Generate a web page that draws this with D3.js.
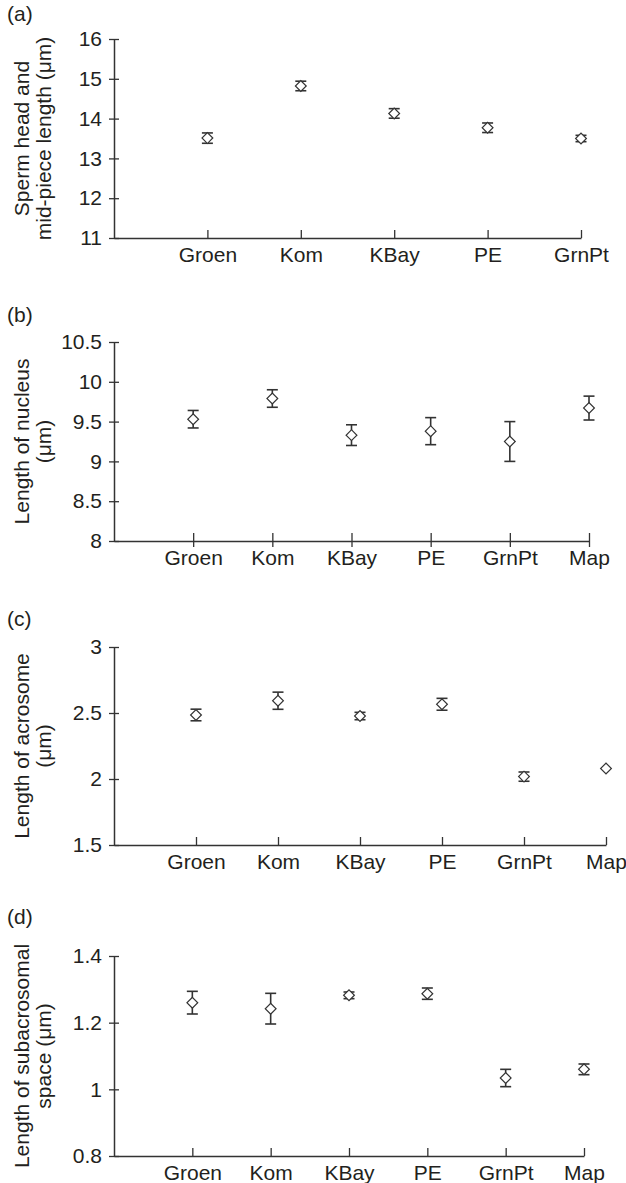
<!DOCTYPE html>
<html>
<head>
<meta charset="utf-8">
<script src="https://cdn.jsdelivr.net/npm/d3@7"></script>
<style>
  body { margin: 0; background: #fff; }
  svg text { font-family: "Liberation Sans", Arial, sans-serif; fill: #231f20; }
</style>
</head>
<body>
<svg id="chart"></svg>
<script>
// (a) sperm head and mid-piece length
const catsA = ["Groen", "Kom", "KBay", "PE", "GrnPt"];
const meanA = [13.51, 14.82, 14.13, 13.77, 13.5];
const errA = [0.13, 0.12, 0.12, 0.12, 0.08];
const ticksA = [11, 12, 13, 14, 15, 16];

// (b) nucleus
const catsB = ["Groen", "Kom", "KBay", "PE", "GrnPt", "Map"];
const meanB = [9.53, 9.79, 9.33, 9.38, 9.25, 9.67];
const errB = [0.11, 0.11, 0.13, 0.17, 0.25, 0.15];
const ticksB = [8, 8.5, 9, 9.5, 10, 10.5];

// (c) acrosome
const catsC = ["Groen", "Kom", "KBay", "PE", "GrnPt", "Map"];
const meanC = [2.485, 2.593, 2.477, 2.566, 2.018, 2.08];
const errC = [0.044, 0.065, 0.028, 0.045, 0.035, 0];
const ticksC = [1.5, 2, 2.5, 3];

// (d) subacrosomal space
const catsD = ["Groen", "Kom", "KBay", "PE", "GrnPt", "Map"];
const meanD = [1.26, 1.242, 1.282, 1.287, 1.034, 1.06];
const errD = [0.034, 0.046, 0.01, 0.017, 0.026, 0.016];
const ticksD = [0.8, 1, 1.2, 1.4];

const w = 626;
const h = 1183;
const axisX = 114;
const ink = "#333";

const svg = d3.select("#chart").attr("width", w).attr("height", h);

function drawPanel(p) {
  const g = svg.append("g");

  const y = d3.scaleLinear()
    .domain([p.ticks[0], p.ticks[p.ticks.length - 1]])
    .range([p.bottom, p.top]);

  // first slot is empty so the first category sits one step right of the axis
  const x = d3.scalePoint()
    .domain([""].concat(p.cats))
    .range([axisX, p.xEnd]);

  const yAxis = d3.axisLeft(y)
    .tickValues(p.ticks)
    .tickFormat((d) => String(d))
    .tickSizeInner(5)
    .tickSizeOuter(0);

  const ya = g.append("g").attr("transform", `translate(${axisX},0)`).call(yAxis);
  ya.select(".domain").attr("stroke", ink).attr("stroke-width", 1.5);
  ya.selectAll(".tick line").attr("x1", 5).attr("stroke", ink).attr("stroke-width", 1.3);
  ya.selectAll(".tick text").attr("x", -12).attr("font-size", 21).attr("font-family", null);

  const xAxis = d3.axisBottom(x)
    .tickValues(p.cats)
    .tickSizeInner(-8)
    .tickSizeOuter(0);

  const xa = g.append("g").attr("transform", `translate(0,${p.bottom})`).call(xAxis);
  xa.select(".domain").attr("stroke", ink).attr("stroke-width", 1.5);
  xa.selectAll(".tick line").attr("stroke", ink).attr("stroke-width", 1.3);
  if (p.crossTicks) xa.selectAll(".tick line").attr("y1", 6);
  xa.selectAll(".tick text").attr("y", 9.5).attr("dy", "0.71em").attr("font-size", 21).attr("font-family", null);

  // panel tag
  g.append("text").attr("x", 7).attr("y", p.tagY).attr("font-size", 21).text(p.tag);

  // y title, two lines
  const cy = (p.top + p.bottom) / 2;
  p.title.forEach((line, i) => {
    g.append("text")
      .attr("transform", `translate(${29 + i * 22},${cy}) rotate(-90)`)
      .attr("text-anchor", "middle")
      .attr("font-size", 21)
      .text(line);
  });

  const rows = p.cats.map((c, i) => ({ c: c, m: p.mean[i], e: p.err[i] }));

  const bars = g.selectAll(".bar").data(rows.filter((d) => d.e > 0)).enter()
    .append("g").attr("class", "bar")
    .attr("stroke", ink).attr("stroke-width", 1.6);
  bars.append("line")
    .attr("x1", (d) => x(d.c)).attr("x2", (d) => x(d.c))
    .attr("y1", (d) => y(d.m - d.e)).attr("y2", (d) => y(d.m + d.e));
  bars.append("line")
    .attr("x1", (d) => x(d.c) - 5.5).attr("x2", (d) => x(d.c) + 5.5)
    .attr("y1", (d) => y(d.m + d.e)).attr("y2", (d) => y(d.m + d.e));
  bars.append("line")
    .attr("x1", (d) => x(d.c) - 5.5).attr("x2", (d) => x(d.c) + 5.5)
    .attr("y1", (d) => y(d.m - d.e)).attr("y2", (d) => y(d.m - d.e));

  const diamond = d3.symbol().type(d3.symbolSquare).size(58);
  g.selectAll(".pt").data(rows).enter()
    .append("path").attr("class", "pt")
    .attr("d", diamond)
    .attr("transform", (d) => `translate(${x(d.c)},${y(d.m)}) rotate(45)`)
    .attr("fill", "#fff")
    .attr("stroke", ink)
    .attr("stroke-width", 1.2);
}

drawPanel({ cats: catsA, mean: meanA, err: errA, ticks: ticksA, tag: "(a)",
  title: ["Sperm head and", "mid-piece length (\u03bcm)"],
  top: 39, bottom: 238, xEnd: 581, tagY: 21 });

drawPanel({ cats: catsB, mean: meanB, err: errB, ticks: ticksB, tag: "(b)",
  title: ["Length of nucleus", "(\u03bcm)"],
  top: 342, bottom: 541, xEnd: 589, tagY: 322, crossTicks: true });

drawPanel({ cats: catsC, mean: meanC, err: errC, ticks: ticksC, tag: "(c)",
  title: ["Length of acrosome", "(\u03bcm)"],
  top: 647, bottom: 845, xEnd: 606, tagY: 626 });

drawPanel({ cats: catsD, mean: meanD, err: errD, ticks: ticksD, tag: "(d)",
  title: ["Length of subacrosomal", "space (\u03bcm)"],
  top: 956, bottom: 1156, xEnd: 584, tagY: 924 });
</script>
</body>
</html>
